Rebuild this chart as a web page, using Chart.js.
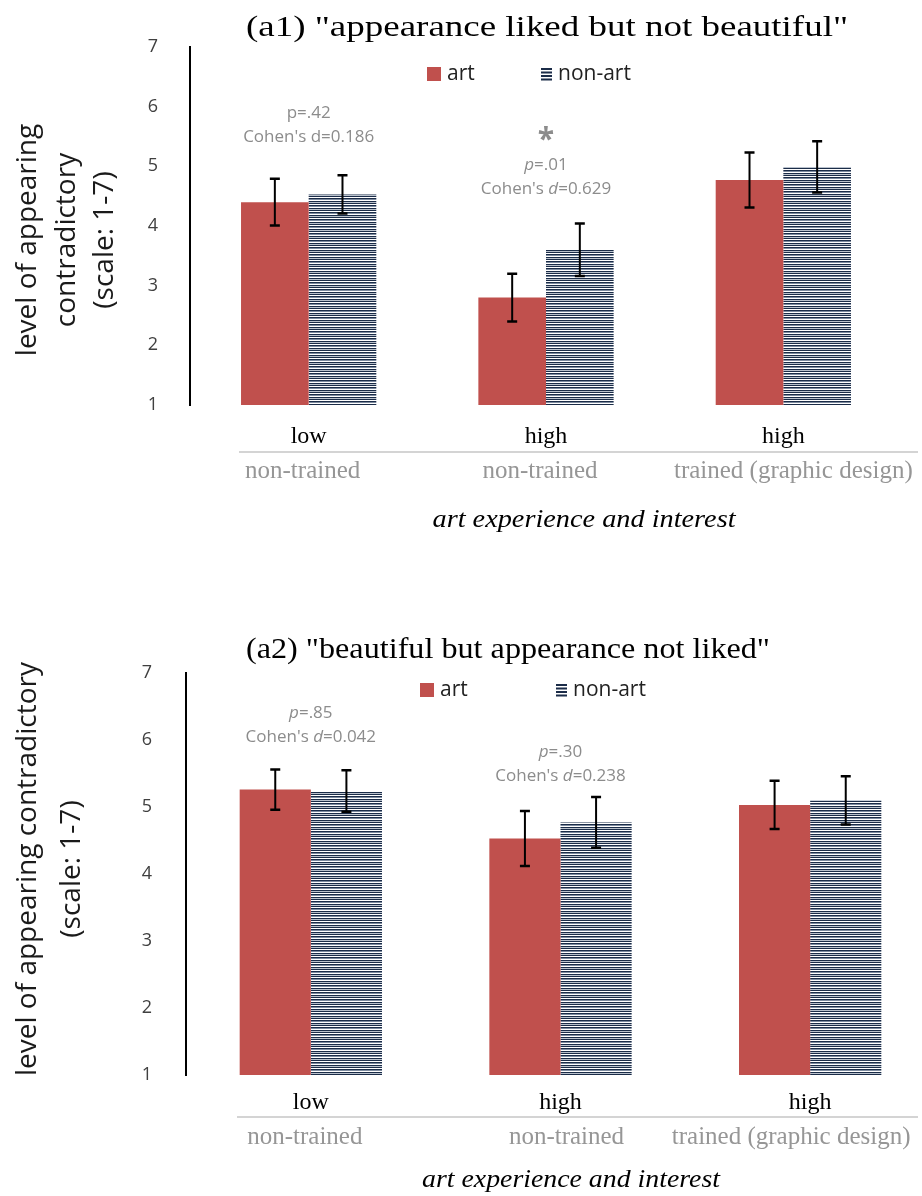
<!DOCTYPE html>
<html>
<head>
<meta charset="utf-8">
<script src="https://cdn.jsdelivr.net/npm/chart.js@4.4.0/dist/chart.umd.min.js"></script>
<style>
  html, body { margin: 0; padding: 0; background: #fff; overflow: hidden; }
  #wrapA1 { position: absolute; left: 0; top: 0; width: 922px; height: 598px; }
  #wrapA2 { position: absolute; left: 0; top: 598px; width: 960px; height: 598px; }
</style>
</head>
<body>
<div id="wrapA1"><canvas id="chartA1"></canvas></div>
<div id="wrapA2"><canvas id="chartA2"></canvas></div>
<script>
// category labels (two rows) and value ticks
const levelLabels = ["low", "high", "high"];
const trainingLabels = ["non-trained", "non-trained", "trained (graphic design)"];
const yTicks = [1, 2, 3, 4, 5, 6, 7];
const seriesNames = ["art", "non-art"];

// (a1) "appearance liked but not beautiful"
const a1Art = [4.40, 2.80, 4.77];
const a1ArtErr = [0.39, 0.40, 0.46];
const a1NonArt = [4.53, 3.60, 4.99];
const a1NonArtErr = [0.32, 0.44, 0.43];
const a1Notes = [["p=.42", "Cohen's d=0.186"], ["_p_=.01", "Cohen's _d_=0.629"], []];
const a1Stars = ["", "*", ""];

// (a2) "beautiful but appearance not liked"
const a2Art = [5.26, 4.53, 5.03];
const a2ArtErr = [0.30, 0.41, 0.36];
const a2NonArt = [5.24, 4.77, 5.10];
const a2NonArtErr = [0.31, 0.38, 0.36];
const a2Notes = [["_p_=.85", "Cohen's _d_=0.042"], ["_p_=.30", "Cohen's _d_=0.238"], []];
const a2Stars = ["", "", ""];

const ART_RED = "#c0504d";
const NAVY = "#1b2c48";
const SANS = '"Open Sans"';
const SERIF = '"Liberation Serif"';

function stripePattern() {
  const c = document.createElement("canvas");
  c.width = 4;
  c.height = 7;
  const g = c.getContext("2d");
  const rows = [NAVY, "#ffffff", NAVY, "#7d8b9f", "#ffffff", NAVY, "#b9c1cc"];
  rows.forEach((col, i) => {
    g.fillStyle = col;
    g.fillRect(0, i, 4, 1);
  });
  return g.createPattern(c, "repeat");
}

// text helper, optionally stretched to a given width
function drawText(ctx, text, x, y, font, color, width, align) {
  ctx.save();
  ctx.font = font;
  ctx.fillStyle = color;
  ctx.textBaseline = "middle";
  ctx.textAlign = align || "center";
  ctx.translate(x, y);
  if (width) ctx.scale(width / ctx.measureText(text).width, 1);
  ctx.fillText(text, 0, 0);
  ctx.restore();
}

// "_x_" marks italic parts
function drawNote(ctx, text, x, y) {
  const parts = text.split("_");
  const fonts = parts.map((p, i) => (i % 2 ? "italic " : "") + "17px " + SANS);
  const widths = parts.map((p, i) => { ctx.font = fonts[i]; return ctx.measureText(p).width; });
  let cx = x - widths.reduce((a, b) => a + b, 0) / 2;
  ctx.save();
  ctx.fillStyle = "#8c8c8c";
  ctx.textBaseline = "middle";
  ctx.textAlign = "left";
  parts.forEach((p, i) => {
    ctx.font = fonts[i];
    ctx.fillText(p, cx, y);
    cx += widths[i];
  });
  ctx.restore();
}

function decorations(c) {
  return {
    id: "decor",
    afterDatasetsDraw(chart) {
      const ctx = chart.ctx;
      const y = chart.scales.y;
      [c.artErr, c.nonArtErr].forEach((errs, di) => {
        const values = chart.data.datasets[di].data;
        chart.getDatasetMeta(di).data.forEach((bar, i) => {
          const top = y.getPixelForValue(values[i] + errs[i]);
          const bot = y.getPixelForValue(values[i] - errs[i]);
          ctx.save();
          ctx.strokeStyle = "#000";
          ctx.lineWidth = 2;
          ctx.beginPath();
          ctx.moveTo(bar.x, top);
          ctx.lineTo(bar.x, bot);
          ctx.stroke();
          ctx.lineWidth = 2.5;
          ctx.beginPath();
          ctx.moveTo(bar.x - 5, top);
          ctx.lineTo(bar.x + 5, top);
          ctx.moveTo(bar.x - 5, bot);
          ctx.lineTo(bar.x + 5, bot);
          ctx.stroke();
          ctx.restore();
        });
      });
    },
    afterDraw(chart) {
      const ctx = chart.ctx;
      const x = chart.scales.x;

      drawText(ctx, c.title, c.titleX, c.titleY, "29px " + SERIF, "#000", c.titleW);

      // legend
      const L = c.legend;
      ctx.fillStyle = ART_RED;
      ctx.fillRect(L.x1, L.y - 7, 14, 14);
      drawText(ctx, seriesNames[0], L.x1 + 20, L.y, "21px " + SANS, "#222", null, "left");
      ctx.fillStyle = NAVY;
      for (let k = 0; k < 4; k++) ctx.fillRect(L.x2, L.y - 6 + k * 3.5, 11, 2);
      drawText(ctx, seriesNames[1], L.x2 + 17, L.y, "21px " + SANS, "#222", null, "left");

      // significance notes
      levelLabels.forEach((lab, i) => {
        const cx = x.getPixelForValue(i);
        if (c.stars[i]) drawText(ctx, c.stars[i], cx, c.starY, "bold 30px " + SANS, "#8c8c8c");
        c.notes[i].forEach((line, k) => drawNote(ctx, line, cx, c.noteY[i][k]));
      });

      // two-row category axis
      levelLabels.forEach((lab, i) => {
        const cx = x.getPixelForValue(i);
        drawText(ctx, lab, cx, c.row1Y, "24px " + SERIF, "#000");
        drawText(ctx, trainingLabels[i], cx + c.row2Shift[i], c.row2Y, "25px " + SERIF, "#969696");
      });
      ctx.save();
      ctx.strokeStyle = "#d4d4d4";
      ctx.lineWidth = 2;
      ctx.beginPath();
      ctx.moveTo(c.sepX[0], c.sepY);
      ctx.lineTo(c.sepX[1], c.sepY);
      ctx.stroke();
      ctx.restore();
      drawText(ctx, "art experience and interest", c.xTitleX, c.xTitleY, "italic 25px " + SERIF, "#000", c.xTitleW);

      // rotated y title
      c.yTitle.forEach((line, k) => {
        ctx.save();
        ctx.translate(c.yTitleX[k], c.yTitleY);
        ctx.rotate(-Math.PI / 2);
        drawText(ctx, line, 0, 0, c.yTitleSize + "px " + SANS, "#1a1a1a");
        ctx.restore();
      });
    }
  };
}

function buildChart(id, c) {
  new Chart(document.getElementById(id), {
    type: "bar",
    data: {
      labels: levelLabels,
      datasets: [
        { label: seriesNames[0], data: c.art, backgroundColor: ART_RED },
        { label: seriesNames[1], data: c.nonArt, backgroundColor: stripePattern() }
      ]
    },
    options: {
      responsive: true,
      maintainAspectRatio: false,
      animation: false,
      layout: { padding: c.padding },
      categoryPercentage: 0.57,
      barPercentage: 1,
      scales: {
        x: { display: false },
        y: {
          min: 1,
          max: 7,
          afterFit(s) { s.width = c.axisLeft; },
          afterBuildTicks(s) { s.ticks = yTicks.map(v => ({ value: v })); },
          grid: { display: false },
          border: { display: true, color: "#000", width: 2 },
          ticks: { padding: c.tickPad, color: "#404040", font: { family: "Open Sans", size: 18 } }
        }
      },
      plugins: { legend: { display: false }, tooltip: { enabled: false } }
    },
    plugins: [decorations(c)]
  });
}

buildChart("chartA1", {
  art: a1Art, artErr: a1ArtErr, nonArt: a1NonArt, nonArtErr: a1NonArtErr,
  notes: a1Notes, stars: a1Stars, starY: 140, noteY: [[113, 137], [165, 189], []],
  padding: { left: 0, top: 47, right: 20, bottom: 193 }, axisLeft: 190, tickPad: 24,
  title: '(a1) "appearance liked but not beautiful"', titleX: 547, titleY: 28, titleW: 602,
  legend: { x1: 427, x2: 541, y: 74 },
  row1Y: 437, row2Y: 471, row2Shift: [-6, -6, 10], sepY: 452, sepX: [239, 918],
  xTitleX: 584, xTitleY: 520, xTitleW: 303,
  yTitle: ["level of appearing", "contradictory", "(scale: 1-7)"], yTitleX: [28, 67, 105], yTitleY: 240, yTitleSize: 28
});

buildChart("chartA2", {
  art: a2Art, artErr: a2ArtErr, nonArt: a2NonArt, nonArtErr: a2NonArtErr,
  notes: a2Notes, stars: a2Stars, starY: 0, noteY: [[115, 139], [154, 178], []],
  padding: { left: 0, top: 75, right: 25, bottom: 121 }, axisLeft: 186, tickPad: 26,
  title: '(a2) "beautiful but appearance not liked"', titleX: 508, titleY: 52, titleW: 524,
  legend: { x1: 420, x2: 556, y: 92 },
  row1Y: 505, row2Y: 539, row2Shift: [-6, 6, -19], sepY: 519, sepX: [237, 918],
  xTitleX: 571, xTitleY: 582, xTitleW: 298,
  yTitle: ["level of appearing contradictory", "(scale: 1-7)"], yTitleX: [28, 72], yTitleY: 271, yTitleSize: 28
});
</script>
</body>
</html>
